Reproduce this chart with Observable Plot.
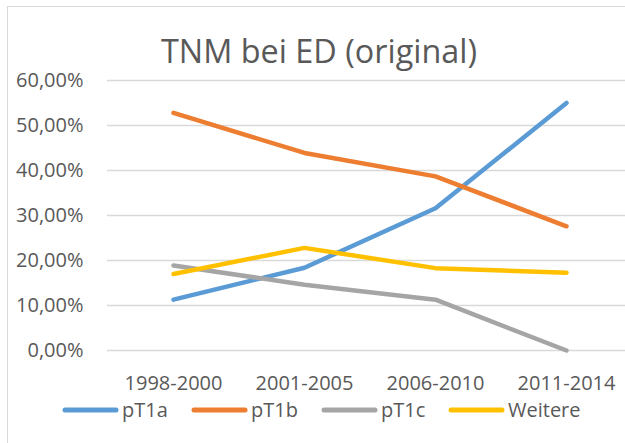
<!DOCTYPE html>
<html>
<head>
<meta charset="utf-8">
<script src="https://cdn.jsdelivr.net/npm/d3@7"></script>
<script src="https://cdn.jsdelivr.net/npm/@observablehq/plot@0.6"></script>
<style>
  html, body { margin: 0; padding: 0; background: #fff; overflow: hidden; }
  #wrap { position: relative; width: 625px; height: 443px; overflow: hidden; }
  #border { position: absolute; left: 7px; top: 6px; width: 700px; height: 500px;
            border: 1.5px solid #D9D9D9; box-sizing: border-box; pointer-events: none; }
  #chart { position: absolute; left: 0; top: 0; }
</style>
</head>
<body>
<div id="wrap">
  <div id="chart"></div>
  <div id="border"></div>
</div>
<script>
const title = "TNM bei ED (original)";
const categories = ["1998-2000", "2001-2005", "2006-2010", "2011-2014"];
const seriesNames = ["pT1a", "pT1b", "pT1c", "Weitere"];
const seriesColors = ["#5B9BD5", "#ED7D31", "#A5A5A5", "#FFC000"];
const pT1a = [0.113, 0.184, 0.316, 0.550];
const pT1b = [0.528, 0.439, 0.387, 0.276];
const pT1c = [0.189, 0.146, 0.113, 0.000];
const weitere = [0.170, 0.228, 0.183, 0.173];
const yTicks = [0, 0.1, 0.2, 0.3, 0.4, 0.5, 0.6];

const seriesValues = [pT1a, pT1b, pT1c, weitere];
const rows = [];
seriesNames.forEach((s, i) => categories.forEach((c, j) => rows.push({series: s, cat: c, value: seriesValues[i][j]})));

const font = "'Open Sans', 'DejaVu Sans', sans-serif";
const textColor = "#595959";

const fmt = d => (d * 100).toFixed(2).replace(".", ",") + "%";

const plot = Plot.plot({
  width: 625,
  height: 443,
  marginTop: 80,
  marginBottom: 93,
  marginLeft: 107,
  marginRight: 0,
  style: {fontFamily: font, fontSize: "20px", color: textColor, background: "transparent"},
  x: {type: "point", domain: categories, range: [172, 566], padding: 0},
  y: {domain: [0, 0.6]},
  color: {domain: seriesNames, range: seriesColors},
  marks: [
    Plot.ruleY(yTicks, {stroke: "#D9D9D9", strokeWidth: 1.5}),
    Plot.axisY({ticks: yTicks, tickFormat: fmt, tickSize: 0, tickPadding: 24, label: null, fill: textColor, fontSize: 20}),
    Plot.axisX({tickSize: 0, tickPadding: 25, label: null, fill: textColor, fontSize: 20}),
    Plot.line(rows, {x: "cat", y: "value", z: "series", stroke: "series", strokeWidth: 4.5,
                     strokeLinecap: "round", strokeLinejoin: "round"})
  ]
});
document.getElementById("chart").appendChild(plot);

const svg = d3.select(plot);
svg.append("text")
  .attr("x", 161).attr("y", 63)
  .attr("text-anchor", "start")
  .attr("textLength", 316).attr("lengthAdjust", "spacingAndGlyphs")
  .attr("font-family", font).attr("font-size", 32).attr("fill", textColor)
  .text(title);

// Legend
const legendSwatchX = [63, 192, 322, 449];
const lg = svg.append("g").attr("text-anchor", "start");
seriesNames.forEach((s, i) => {
  const x0 = legendSwatchX[i];
  lg.append("line")
    .attr("x1", x0 + 2).attr("x2", x0 + 53).attr("y1", 410).attr("y2", 410)
    .attr("stroke", seriesColors[i]).attr("stroke-width", 5).attr("stroke-linecap", "round");
  lg.append("text")
    .attr("x", x0 + 59).attr("y", 417)
    .attr("font-family", font).attr("font-size", 20).attr("fill", textColor)
    .text(s);
});
</script>
</body>
</html>
